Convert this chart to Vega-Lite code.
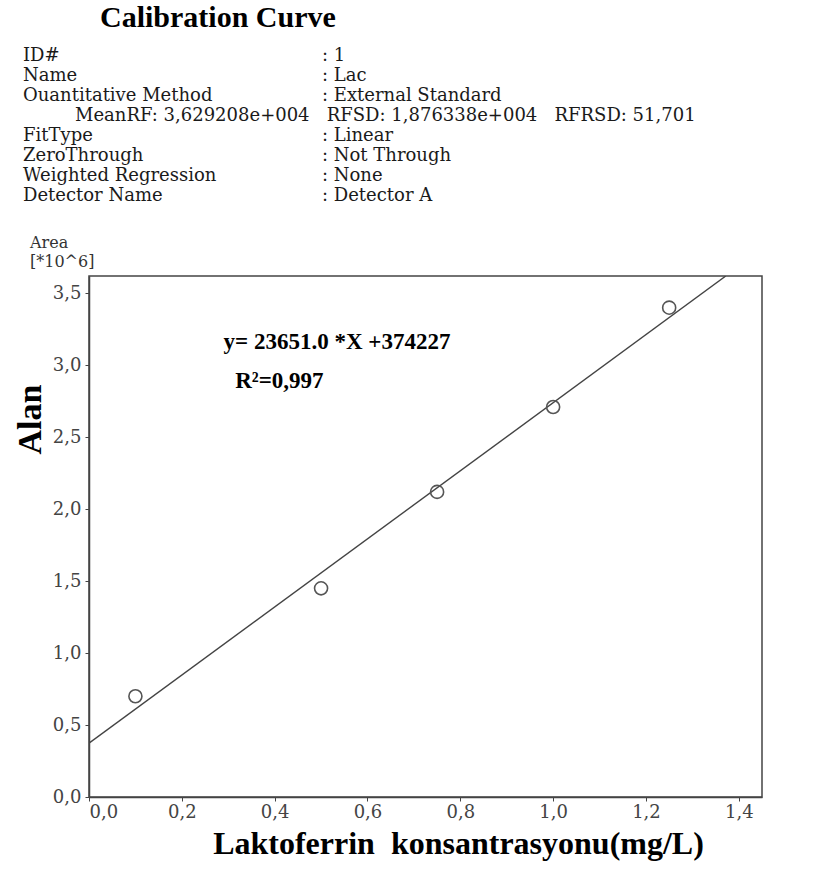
{
  "$schema": "https://vega.github.io/schema/vega-lite/v6.json",
  "width": 673,
  "height": 521,
  "autosize": {"type": "none"},
  "padding": {"left": 89, "top": 276, "right": 56, "bottom": 75},
  "background": "white",
  "config": {
    "view": {"stroke": "#444", "strokeWidth": 1.5},
    "locale": {"number": {"decimal": ",", "thousands": ".", "grouping": [3], "currency": ["", ""]}}
  },
  "datasets": {
    "standards": [
      {"conc": 0.1, "area": 0.70},
      {"conc": 0.5, "area": 1.45},
      {"conc": 0.75, "area": 2.12},
      {"conc": 1.0, "area": 2.71},
      {"conc": 1.25, "area": 3.40}
    ],
    "fit": [
      {"conc": 0.0, "area": 0.374},
      {"conc": 1.372, "area": 3.62}
    ],
    "notes": [
      {"conc": 0.29, "area": 3.16, "label": "y= 23651.0 *X +374227"},
      {"conc": 0.315, "area": 2.89, "label": "R²=0,997"}
    ],
    "header": [
      {"kind": "title", "col": 4, "line": 0, "text": "Calibration Curve"},
      {"kind": "body", "col": 1, "line": 1, "text": "ID#"},
      {"kind": "body", "col": 3, "line": 1, "text": ": 1"},
      {"kind": "body", "col": 1, "line": 2, "text": "Name"},
      {"kind": "body", "col": 3, "line": 2, "text": ": Lac"},
      {"kind": "body", "col": 1, "line": 3, "text": "Ouantitative Method"},
      {"kind": "body", "col": 3, "line": 3, "text": ": External Standard"},
      {"kind": "body", "col": 2, "line": 4, "text": "MeanRF: 3,629208e+004\u00a0\u00a0\u00a0RFSD: 1,876338e+004\u00a0\u00a0\u00a0RFRSD: 51,701"},
      {"kind": "body", "col": 1, "line": 5, "text": "FitType"},
      {"kind": "body", "col": 3, "line": 5, "text": ": Linear"},
      {"kind": "body", "col": 1, "line": 6, "text": "ZeroThrough"},
      {"kind": "body", "col": 3, "line": 6, "text": ": Not Through"},
      {"kind": "body", "col": 1, "line": 7, "text": "Weighted Regression"},
      {"kind": "body", "col": 3, "line": 7, "text": ": None"},
      {"kind": "body", "col": 1, "line": 8, "text": "Detector Name"},
      {"kind": "body", "col": 3, "line": 8, "text": ": Detector A"},
      {"kind": "unit", "col": 0, "line": 9, "text": "Area"},
      {"kind": "unit", "col": 0, "line": 10, "text": "[*10^6]"}
    ]
  },
  "layer": [
    {
      "layer": [
        {
          "data": {"name": "fit"},
          "mark": {"type": "line", "stroke": "#444", "strokeWidth": 1.4, "clip": true},
          "encoding": {
            "x": {"field": "conc", "type": "quantitative", "scale": {"domain": [0, 1.45], "nice": false, "zero": false}},
            "y": {"field": "area", "type": "quantitative", "scale": {"domain": [0, 3.62], "nice": false, "zero": false}}
          }
        },
        {
          "data": {"name": "standards"},
          "mark": {"type": "point", "shape": "circle", "filled": false, "size": 170, "stroke": "#555", "strokeWidth": 1.6, "opacity": 1},
          "encoding": {
            "x": {
              "field": "conc", "type": "quantitative",
              "scale": {"domain": [0, 1.45], "nice": false, "zero": false},
              "axis": {
                "values": [0, 0.2, 0.4, 0.6, 0.8, 1.0, 1.2, 1.4],
                "format": ".1f",
                "grid": false,
                "domainColor": "#444", "domainWidth": 1.5,
                "tickColor": "#444", "tickSize": 4,
                "labelFont": "DejaVu Serif", "labelFontSize": 18, "labelColor": "#444", "labelPadding": 2,
                "title": "Laktoferrin\u00a0\u00a0konsantrasyonu(mg/L)",
                "titleFont": "Liberation Serif", "titleFontWeight": "bold", "titleFontSize": 32, "titleColor": "#000",
                "titleX": 369, "titleAlign": "center",
                "titlePadding": 7
              }
            },
            "y": {
              "field": "area", "type": "quantitative",
              "scale": {"domain": [0, 3.62], "nice": false, "zero": false},
              "axis": {
                "values": [0, 0.5, 1.0, 1.5, 2.0, 2.5, 3.0, 3.5],
                "format": ".1f",
                "grid": false,
                "domainColor": "#444", "domainWidth": 1.5,
                "tickColor": "#444", "tickSize": 4,
                "labelFont": "DejaVu Serif", "labelFontSize": 18, "labelColor": "#444", "labelPadding": 4,
                "title": "Alan",
                "titleFont": "Liberation Serif", "titleFontWeight": "bold", "titleFontSize": 34, "titleColor": "#000",
                "titleAngle": 270, "titleX": -59, "titleY": 143, "titleAlign": "center", "titleBaseline": "middle"
              }
            }
          }
        },
        {
          "data": {"name": "notes"},
          "mark": {"type": "text", "align": "left", "baseline": "middle", "font": "Liberation Serif", "fontWeight": "bold", "fontSize": 23, "color": "#000"},
          "encoding": {
            "x": {"field": "conc", "type": "quantitative"},
            "y": {"field": "area", "type": "quantitative"},
            "text": {"field": "label"}
          }
        }
      ]
    },
    {
      "data": {"name": "header"},
      "encoding": {
        "x": {"field": "col", "type": "quantitative", "axis": null,
              "scale": {"domain": [0, 1, 2, 3, 4], "range": [-59, -66, -14, 233, 11], "nice": false, "zero": false}},
        "y": {"field": "line", "type": "quantitative", "axis": null,
              "scale": {"domain": [0, 1, 2, 3, 4, 5, 6, 7, 8, 9, 10], "range": [-258, -220, -200, -180, -160, -140, -120, -100, -80, -33, -14], "nice": false, "zero": false}},
        "text": {"field": "text"}
      },
      "layer": [
        {
          "transform": [{"filter": "datum.kind === 'title'"}],
          "mark": {"type": "text", "align": "left", "baseline": "middle", "font": "Liberation Serif", "fontWeight": "bold", "fontSize": 30, "color": "#000"}
        },
        {
          "transform": [{"filter": "datum.kind === 'body'"}],
          "mark": {"type": "text", "align": "left", "baseline": "middle", "font": "DejaVu Serif", "fontSize": 18, "color": "#1a1a1a"}
        },
        {
          "transform": [{"filter": "datum.kind === 'unit'"}],
          "mark": {"type": "text", "align": "left", "baseline": "middle", "font": "DejaVu Serif", "fontSize": 16, "color": "#333"}
        }
      ]
    }
  ],
  "resolve": {"scale": {"x": "independent", "y": "independent"}}
}
